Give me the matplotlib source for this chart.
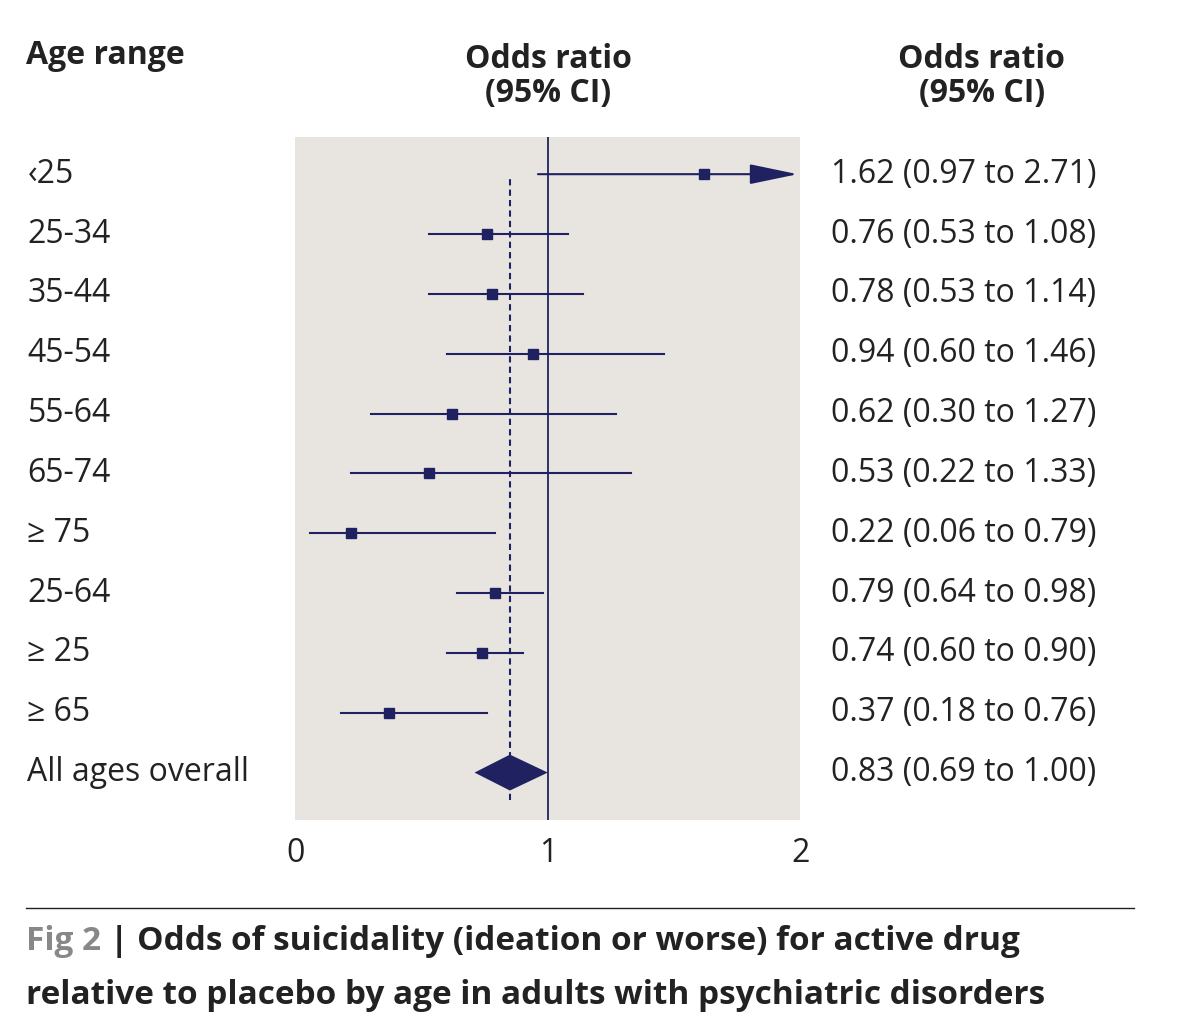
#!/usr/bin/env python3

import pandas as pd
import matplotlib.pyplot as plt

plt.rcParams['font.family'] = ['Open Sans', 'DejaVu Sans']

df = pd.DataFrame({
    'age': ['‹25', '25-34', '35-44', '45-54', '55-64', '65-74', '≥ 75', '25-64', '≥ 25', '≥ 65', 'All ages overall'],
    'OR': [1.62, 0.76, 0.78, 0.94, 0.62, 0.53, 0.22, 0.79, 0.74, 0.37, 0.83],
    'lo': [0.97, 0.53, 0.53, 0.60, 0.30, 0.22, 0.06, 0.64, 0.60, 0.18, 0.69],
    'hi': [2.71, 1.08, 1.14, 1.46, 1.27, 1.33, 0.79, 0.98, 0.90, 0.76, 1.00],
})

navy = '#1f2160'
fig = plt.figure(figsize=(12, 10.23), dpi=100)
axes = fig.add_axes([0.246, 0.198, 0.421, 0.668])
axes.set_facecolor('#e8e5e1')
for s in axes.spines.values():
    s.set_visible(False)

axes.axvline(1, color=navy, lw=1.3)
axes.axvline(0.85, color=navy, lw=1.5, ls=(0, (3, 2)), ymin=0.03, ymax=0.945)  # dashed line as drawn

for i, row in df.iterrows():
    if i == len(df) - 1:
        axes.fill([row['lo'] + 0.02, row['OR'] + 0.02, row['hi'], row['OR'] + 0.02], [i, i - 0.3, i, i + 0.3], color=navy, lw=0)
    elif row['hi'] > 2:
        axes.annotate('', xy=(2, i), xytext=(row['lo'] - 0.02, i),
                      arrowprops=dict(arrowstyle='-|>,head_width=0.25,head_length=1.2', color=navy, lw=1.5, mutation_scale=25))
        axes.plot(row['OR'], i, 's', color=navy, ms=7)
    else:
        axes.plot([row['lo'], row['hi']], [i, i], color=navy, lw=1.5)
        axes.plot(row['OR'], i, 's', color=navy, ms=7)
    axes.text(-1.06, i, row['age'], fontsize=23, va='center', ha='left', color='#222222')
    axes.text(2.12, i, f"{row['OR']:.2f} ({row['lo']:.2f} to {row['hi']:.2f})", fontsize=23, va='center', ha='left', color='#222222')

axes.set_xlim(0, 2)
axes.set_ylim(10.8, -0.62)
axes.set_yticks([])
axes.set_xticks([0, 1, 2])
axes.tick_params(axis='x', length=0, labelsize=23, pad=12, labelcolor='#222222')

fig.text(0.022, 0.946, 'Age range', fontsize=23, fontweight='bold', va='center', color='#222222')
fig.text(0.457, 0.925, 'Odds ratio\n(95% CI)', fontsize=23, fontweight='bold', va='center', ha='center', color='#222222', linespacing=1.05)
fig.text(0.818, 0.925, 'Odds ratio\n(95% CI)', fontsize=23, fontweight='bold', va='center', ha='center', color='#222222', linespacing=1.05)

fig.add_artist(plt.Line2D([0.022, 0.945], [0.112, 0.112], color='#222222', lw=1))
fig.text(0.022, 0.08, 'Fig 2', fontsize=24, fontweight='bold', color='#888888', va='center')
fig.text(0.092, 0.08, '| Odds of suicidality (ideation or worse) for active drug', fontsize=24, fontweight='bold', color='#222222', va='center')
fig.text(0.022, 0.027, 'relative to placebo by age in adults with psychiatric disorders', fontsize=24, fontweight='bold', color='#222222', va='center')

plt.savefig('out.png', dpi=100)
plt.close(fig)
